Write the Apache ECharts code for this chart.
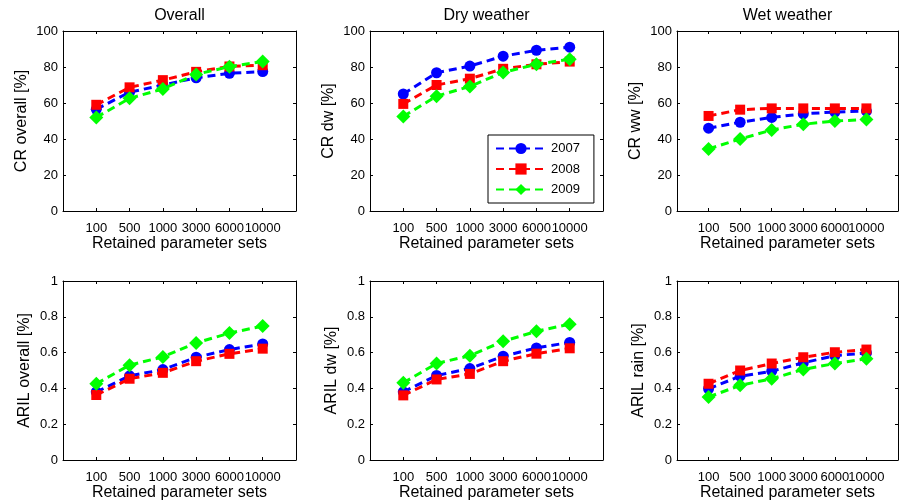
<!DOCTYPE html>
<html>
<head>
<meta charset="utf-8">
<script src="https://cdn.jsdelivr.net/npm/echarts@6/dist/echarts.min.js"></script>
<style>
    html, body { margin: 0; padding: 0; background: #fff; }
    #main { width: 901px; height: 502px; }
</style>
</head>
<body>
<div id="main"></div>
<script>
    // x categories (retained parameter sets)
    var xLabels = ['100', '500', '1000', '3000', '6000', '10000'];
    var years = ['2007', '2008', '2009'];

    // CR overall [%]
    var crOverall2007 = [56.5, 66, 70, 74, 76.5, 77.5];
    var crOverall2008 = [59, 68.7, 72.7, 77.3, 80.3, 81];
    var crOverall2009 = [52, 62.6, 67.8, 75.9, 80.2, 83];
    // CR dw [%]
    var crDw2007 = [65, 76.8, 80.5, 86, 89.3, 91];
    var crDw2008 = [59.5, 70, 73.5, 79, 81.5, 83];
    var crDw2009 = [52.5, 63.8, 69.2, 77, 81.5, 84.3];
    // CR ww [%]
    var crWw2007 = [46, 49.3, 52, 54, 55, 55.5];
    var crWw2008 = [52.8, 56.3, 57, 57, 57, 57];
    var crWw2009 = [34.5, 40, 45, 48.2, 50, 50.8];
    // ARIL overall [%]
    var arilOverall2007 = [0.38, 0.47, 0.505, 0.574, 0.617, 0.648];
    var arilOverall2008 = [0.363, 0.454, 0.487, 0.552, 0.593, 0.622];
    var arilOverall2009 = [0.426, 0.53, 0.576, 0.654, 0.709, 0.748];
    // ARIL dw [%]
    var arilDw2007 = [0.381, 0.472, 0.511, 0.58, 0.626, 0.657];
    var arilDw2008 = [0.361, 0.45, 0.481, 0.552, 0.594, 0.624];
    var arilDw2009 = [0.431, 0.539, 0.583, 0.663, 0.719, 0.759];
    // ARIL rain [%]
    var arilRain2007 = [0.398, 0.468, 0.496, 0.543, 0.583, 0.598];
    var arilRain2008 = [0.426, 0.5, 0.539, 0.574, 0.602, 0.617];
    var arilRain2009 = [0.352, 0.417, 0.454, 0.506, 0.539, 0.565];

    var panels = [
        { title: 'Overall', yName: 'CR overall [%]', max: 100, step: 20, data: [crOverall2007, crOverall2008, crOverall2009] },
        { title: 'Dry weather', yName: 'CR dw [%]', max: 100, step: 20, data: [crDw2007, crDw2008, crDw2009] },
        { title: 'Wet weather', yName: 'CR ww [%]', max: 100, step: 20, data: [crWw2007, crWw2008, crWw2009] },
        { title: '', yName: 'ARIL overall [%]', max: 1, step: 0.2, data: [arilOverall2007, arilOverall2008, arilOverall2009] },
        { title: '', yName: 'ARIL dw [%]', max: 1, step: 0.2, data: [arilDw2007, arilDw2008, arilDw2009] },
        { title: '', yName: 'ARIL rain [%]', max: 1, step: 0.2, data: [arilRain2007, arilRain2008, arilRain2009] }
    ];

    var colors = ['#0000ff', '#ff0000', '#00ff00'];
    var symbols = ['circle', 'rect', 'diamond'];
    var symbolSizes = [11, 10, 14];
    var font = "'Liberation Sans', Arial, sans-serif";

    var lefts = [63, 370, 677], tops = [31, 281];

    // axis line / tick shared by all four sides of the box
    function boxLine() {
        return { show: true, onZero: false, lineStyle: { color: '#000', width: 1 } };
    }
    function boxTick() {
        return { show: true, inside: true, length: 3, lineStyle: { color: '#000' } };
    }

    var grid = [], xAxis = [], yAxis = [], series = [];
    for (var g = 0; g < panels.length; g++) {
        var p = panels[g];
        var row = Math.floor(g / 3), col = g % 3;
        grid.push({ left: lefts[col], top: tops[row], width: 233, height: 180 });

        // bottom axis with labels
        xAxis.push({
            gridIndex: g, type: 'value', min: 0, max: 7, interval: 1, position: 'bottom',
            name: 'Retained parameter sets', nameLocation: 'middle', nameGap: 25,
            nameTextStyle: { fontSize: 16, color: '#000', fontFamily: font },
            axisLine: boxLine(),
            axisTick: boxTick(),
            axisLabel: {
                fontSize: 13, color: '#000', fontFamily: font, margin: 11,
                formatter: function (v) { return xLabels[v - 1] || ''; }
            },
            splitLine: { show: false }
        });
        // top axis: box edge + ticks, carries the title
        xAxis.push({
            gridIndex: g, type: 'value', min: 0, max: 7, interval: 1, position: 'top',
            name: p.title, nameLocation: 'middle', nameGap: 7,
            nameTextStyle: { fontSize: 16, color: '#000', fontFamily: font },
            axisLine: boxLine(),
            axisTick: boxTick(),
            axisLabel: { show: false },
            splitLine: { show: false }
        });
        yAxis.push({
            gridIndex: g, type: 'value', min: 0, max: p.max, interval: p.step, position: 'left',
            name: p.yName, nameLocation: 'middle', nameGap: row == 0 ? 33 : 30,
            nameTextStyle: { fontSize: 16, color: '#000', fontFamily: font },
            axisLine: boxLine(),
            axisTick: boxTick(),
            axisLabel: { fontSize: 13, color: '#000', fontFamily: font, margin: 5 },
            splitLine: { show: false }
        });
        yAxis.push({
            gridIndex: g, type: 'value', min: 0, max: p.max, interval: p.step, position: 'right',
            axisLine: boxLine(),
            axisTick: boxTick(),
            axisLabel: { show: false },
            splitLine: { show: false }
        });

        for (var k = 0; k < years.length; k++) {
            var vals = p.data[k];
            series.push({
                name: years[k],
                type: 'line',
                xAxisIndex: 2 * g,
                yAxisIndex: 2 * g,
                data: vals.map(function (v, i) { return [i + 1, v]; }),
                symbol: symbols[k],
                symbolSize: symbolSizes[k],
                showSymbol: true,
                itemStyle: { color: colors[k] },
                lineStyle: { color: colors[k], width: 3, type: [8, 5] },
                z: 2 + k
            });
        }
    }

    var chart = echarts.init(document.getElementById('main'));
    chart.setOption({
        animation: false,
        backgroundColor: '#fff',
        grid: grid,
        xAxis: xAxis,
        yAxis: yAxis,
        legend: {
            data: years,
            orient: 'vertical',
            left: 488,
            top: 135,
            padding: [7, 14, 7, 7],
            itemWidth: 50,
            itemHeight: 14,
            itemGap: 7.5,
            backgroundColor: '#fff',
            borderColor: '#000',
            borderWidth: 1,
            borderRadius: 0,
            textStyle: { fontSize: 13, color: '#000', fontFamily: font }
        },
        series: series
    });
</script>
</body>
</html>
